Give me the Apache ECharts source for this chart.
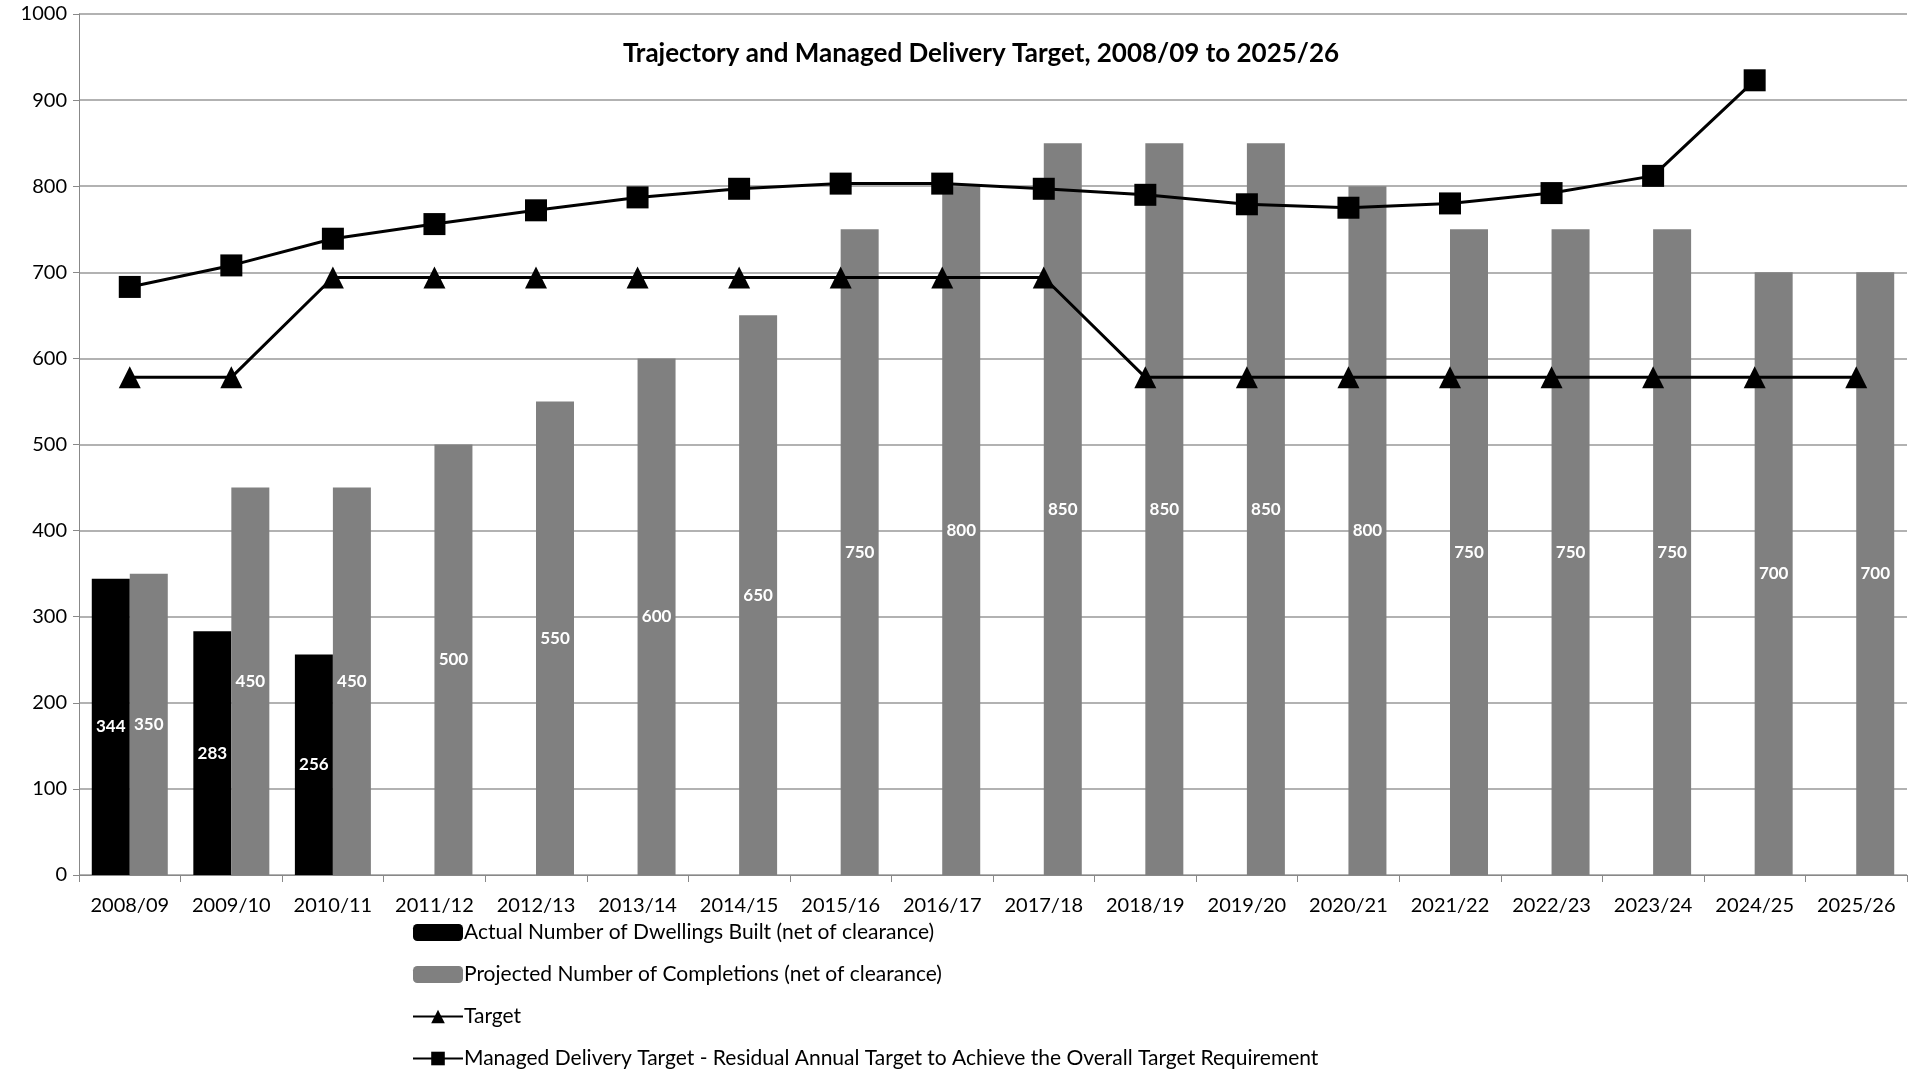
<!DOCTYPE html>
<html>
<head>
<meta charset="utf-8">
<script src="https://cdn.jsdelivr.net/npm/echarts@6/dist/echarts.min.js"></script>
<style>
html, body { margin: 0; padding: 0; background: #fff; }
#chart { width: 1913px; height: 1072px; }
</style>
</head>
<body>
<div id="chart"></div>
<script>
var years = ['2008/09', '2009/10', '2010/11', '2011/12', '2012/13', '2013/14', '2014/15', '2015/16', '2016/17',
    '2017/18', '2018/19', '2019/20', '2020/21', '2021/22', '2022/23', '2023/24', '2024/25', '2025/26'];
var actualBuilt = [344, 283, 256, null, null, null, null, null, null, null, null, null, null, null, null, null, null, null];
var projected = [350, 450, 450, 500, 550, 600, 650, 750, 800, 850, 850, 850, 800, 750, 750, 750, 700, 700];
var target = [578, 578, 694, 694, 694, 694, 694, 694, 694, 694, 578, 578, 578, 578, 578, 578, 578, 578];
var managed = [683, 708, 739, 756, 772, 787, 797, 803, 803, 797, 790, 779, 775, 780, 792, 812, 923, null];

var font = 'Lato';
var barLabel = {
    show: true,
    position: 'inside',
    color: '#fff',
    fontWeight: 'bold',
    fontFamily: font,
    fontSize: 17
};

var chart = echarts.init(document.getElementById('chart'));
var option = {
    backgroundColor: '#fff',
    animation: false,
    title: {
        text: 'Trajectory and Managed Delivery Target, 2008/09 to 2025/26',
        left: 976,
        textAlign: 'center',
        top: 36,
        textStyle: { fontFamily: font, fontSize: 26, fontWeight: 'bold', color: '#000' }
    },
    grid: { left: 79, right: 6, top: 14, bottom: 197 },
    legend: {
        orient: 'vertical',
        left: 412,
        top: 922,
        height: 250,
        padding: 0,
        itemWidth: 50,
        itemHeight: 17,
        itemGap: 21,
        textStyle: { fontFamily: font, fontSize: 21, lineHeight: 20, color: '#000', padding: [0, 0, 0, -4] },
        data: ['Actual Number of Dwellings Built (net of clearance)',
            'Projected Number of Completions (net of clearance)',
            'Target',
            'Managed Delivery Target - Residual Annual Target to Achieve the Overall Target Requirement']
    },
    xAxis: {
        type: 'category',
        data: years,
        axisLine: { lineStyle: { color: '#888', width: 1 } },
        axisTick: { show: true, length: 7, lineStyle: { color: '#888' } },
        axisLabel: { interval: 0, fontFamily: font, fontSize: 20, color: '#000', margin: 21 }
    },
    yAxis: {
        type: 'value',
        min: 0,
        max: 1000,
        interval: 100,
        axisLine: { show: true, lineStyle: { color: '#888', width: 1 } },
        axisTick: { show: true, length: 6, lineStyle: { color: '#888' } },
        axisLabel: { fontFamily: font, fontSize: 20, color: '#000', margin: 12, formatter: function (v) { return String(v); } },
        splitLine: { lineStyle: { color: '#999', width: 1.5 } }
    },
    series: [{
        name: 'Actual Number of Dwellings Built (net of clearance)',
        type: 'bar',
        data: actualBuilt,
        barWidth: 38,
        barGap: '0%',
        itemStyle: { color: '#000' },
        label: barLabel
    }, {
        name: 'Projected Number of Completions (net of clearance)',
        type: 'bar',
        data: projected,
        barWidth: 38,
        barGap: '0%',
        itemStyle: { color: '#808080' },
        label: barLabel
    }, {
        name: 'Target',
        type: 'line',
        data: target,
        symbol: 'triangle',
        symbolSize: 22,
        lineStyle: { color: '#000', width: 3 },
        itemStyle: { color: '#000' }
    }, {
        name: 'Managed Delivery Target - Residual Annual Target to Achieve the Overall Target Requirement',
        type: 'line',
        data: managed,
        symbol: 'rect',
        symbolSize: 22,
        lineStyle: { color: '#000', width: 3 },
        itemStyle: { color: '#000' }
    }]
};
chart.setOption(option);
</script>
</body>
</html>
